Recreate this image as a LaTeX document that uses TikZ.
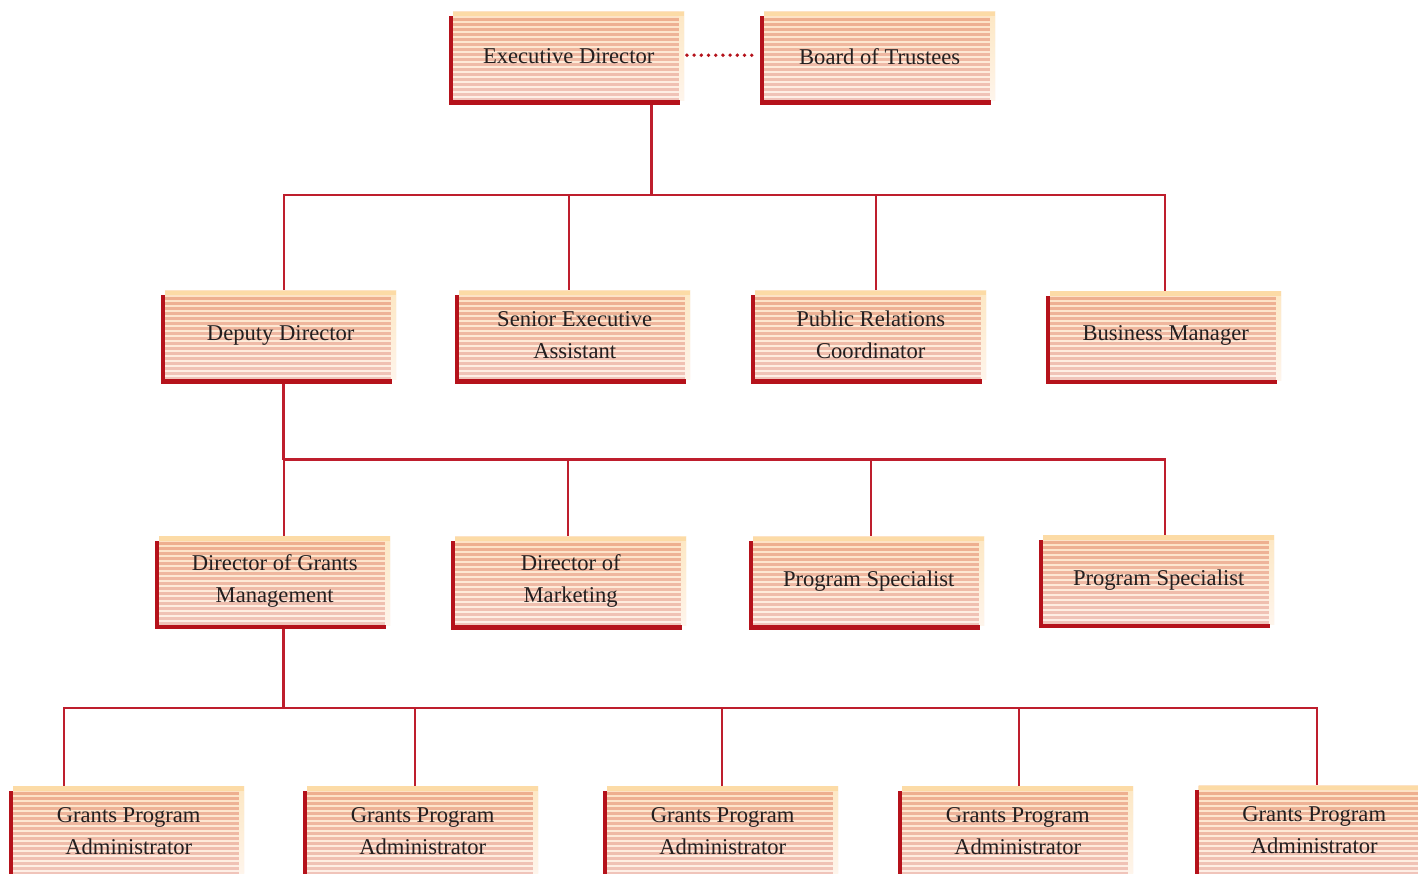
\documentclass[tikz,border=0pt]{standalone}
\usepackage{fontspec}
\setmainfont{Liberation Serif}
\usetikzlibrary{calc}
\definecolor{redbar}{HTML}{B5121B}
\definecolor{connred}{HTML}{BE1E2D}
\definecolor{stripetop}{HTML}{EEAF8F}
\definecolor{stripebot}{HTML}{F0C4BA}
\definecolor{lighttop}{HTML}{FDE2C4}
\definecolor{lightbot}{HTML}{FEF0E8}
\definecolor{peach}{HTML}{FCDBA6}
\definecolor{creamtop}{HTML}{FDE7C3}
\definecolor{creambot}{HTML}{FEF5EC}
\definecolor{txt}{HTML}{231F20}
\pgfdeclarelayer{back}
\pgfsetlayers{back,main}
\tikzset{
  orgbox/.style={anchor=north west, minimum width=231pt, minimum height=89pt,
    inner sep=0pt, align=center, text=txt,
    font=\fontsize{22.6}{32}\selectfont,
    top color=lighttop, bottom color=lightbot,
    path picture={
      \foreach \i in {0,...,16}{
        \pgfmathtruncatemacro\p{100-\i*6.25}
        \fill[stripetop!\p!stripebot]
          ([yshift={-(6.2+5*\i)*1pt}]path picture bounding box.north west) rectangle
          ([xshift=-5pt,yshift={-(9.2+5*\i)*1pt}]path picture bounding box.north east);
      }
      \shade[top color=creamtop, bottom color=creambot]
        ([xshift=-5pt]path picture bounding box.north east) rectangle (path picture bounding box.south east);
      \fill[peach] (path picture bounding box.north west) rectangle ([yshift=-4.5pt]path picture bounding box.north east);
    }},
  redL/.style={fill=redbar},
  conn/.style={draw=connred, line width=2.2pt},
  dotline/.style={draw=redbar, line width=3.8pt, line cap=round, dash pattern=on 0pt off 7.2pt},
}
\newcommand\orgL[1]{%
  \fill[redL] ($(#1.north west)+(-4,-4.5)$) rectangle ($(#1.south west)+(0,-4)$);
  \fill[redL] ($(#1.south west)+(-4,0.7)$) rectangle ($(#1.south east)+(-4,-4)$);
}
\begin{document}
\begin{tikzpicture}[x=1pt,y=1pt]
\useasboundingbox (0,0) rectangle (1418,-873);
\clip (0,0) rectangle (1418,-873);

% row 1
\node[orgbox] (ed) at (453,-11.5) {Executive Director}; \orgL{ed}
\node[orgbox] (bot) at (764,-11.5) {Board of Trustees}; \orgL{bot}
% row 2
\node[orgbox] (dd) at (165,-290.5) {Deputy Director}; \orgL{dd}
\node[orgbox] (sea) at (459,-290.5) {Senior Executive\\Assistant}; \orgL{sea}
\node[orgbox] (prc) at (755,-290.5) {Public Relations\\Coordinator}; \orgL{prc}
\node[orgbox] (bm) at (1050,-291) {Business Manager}; \orgL{bm}
% row 3
\node[orgbox] (dgm) at (159,-536) {Director of Grants\\Management}; \orgL{dgm}
\node[orgbox] (dom) at (455,-536.5) {Director of\\Marketing}; \orgL{dom}
\node[orgbox] (ps1) at (753,-536.5) {Program Specialist}; \orgL{ps1}
\node[orgbox] (ps2) at (1043,-535) {Program Specialist}; \orgL{ps2}
% row 4
\node[orgbox] (gpa1) at (13,-786) {Grants Program\\Administrator}; \orgL{gpa1}
\node[orgbox] (gpa2) at (307,-786) {Grants Program\\Administrator}; \orgL{gpa2}
\node[orgbox] (gpa3) at (607,-786) {Grants Program\\Administrator}; \orgL{gpa3}
\node[orgbox] (gpa4) at (902,-786) {Grants Program\\Administrator}; \orgL{gpa4}
\node[orgbox] (gpa5) at (1198.5,-785.5) {Grants Program\\Administrator}; \orgL{gpa5}

\coordinate (h1) at (651.5,-195.3);
\coordinate (h2) at (283.5,-459.5);
\coordinate (h3) at (283.5,-707.7);

\draw[dotline] ([xshift=2.5pt,yshift=1pt]ed.east) -- ([xshift=-6pt,yshift=1pt]bot.west);

\begin{pgfonlayer}{back}
\fill[white] (0,0) rectangle (1418,-873);
\draw[conn] (ed.south -| h1) -- (h1);
\draw[conn] ([xshift=3pt]dd.north) |- (h1);
\draw[conn] ([xshift=-5.5pt]sea.north) |- (h1);
\draw[conn] ([xshift=5pt]prc.north) |- (h1);
\draw[conn] ([xshift=-1pt]bm.north) |- (h1);

\draw[conn] (dd.south -| h2) -- (h2);
\draw[conn] ([xshift=9pt]dgm.north) |- (h2);
\draw[conn] ([xshift=-2.5pt]dom.north) |- (h2);
\draw[conn] ([xshift=2.5pt]ps1.north) |- (h2);
\draw[conn] ([xshift=6.5pt]ps2.north) |- (h2);

\draw[conn] (dgm.south -| h3) -- (h3);
\draw[conn] ([xshift=-64.5pt]gpa1.north) |- (h3);
\draw[conn] ([xshift=-7.5pt]gpa2.north) |- (h3);
\draw[conn] ([xshift=-1pt]gpa3.north) |- (h3);
\draw[conn] ([xshift=1.5pt]gpa4.north) |- (h3);
\draw[conn] ([xshift=2.5pt]gpa5.north) |- (h3);
\end{pgfonlayer}
\end{tikzpicture}
\end{document}
